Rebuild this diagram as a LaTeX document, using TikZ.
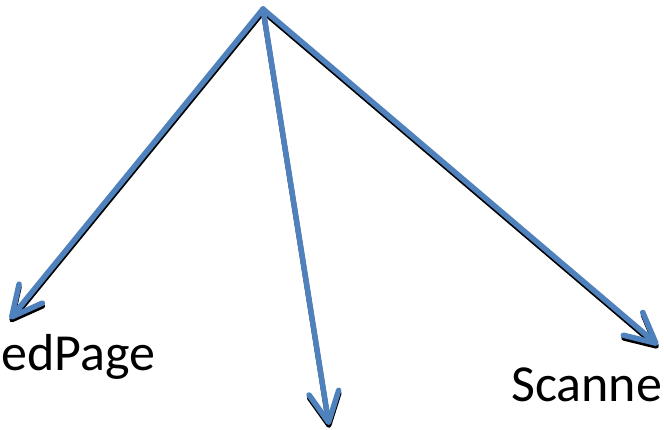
\documentclass[tikz,border=0pt]{standalone}
\usepackage{fontspec}
\setmainfont{Carlito}
\usetikzlibrary{arrows.meta}
\definecolor{accentblue}{RGB}{79,129,189}
\begin{document}
\begin{tikzpicture}[x=1pt,y=-1pt,
  conn/.style={line width=5.5pt, draw=accentblue, line cap=round, line join=round,
    -{Straight Barb[length=30pt,width=30pt,line cap=round,line join=round]}},
  shadowconn/.style={conn, draw=black, line width=5pt, transform canvas={xshift=0.3pt,yshift=-2.8pt}},
  lbl/.style={inner sep=0pt, font=\fontsize{52}{60}\selectfont, text=black}]
\useasboundingbox (0,0) rectangle (664,429);
\coordinate (top) at (263,9);
\coordinate (left) at (10,319);
\coordinate (mid) at (329,425);
\coordinate (right) at (658,345);
\draw[shadowconn] (top) -- (left);
\draw[shadowconn] (top) -- (mid);
\draw[shadowconn] (top) -- (right);
\draw[conn] (top) -- (left);
\draw[conn] (top) -- (mid);
\draw[conn] (top) -- (right);
\node[lbl, anchor=base west] (lp) at (1,370) {edPage};
\node[lbl, anchor=base west] (rp) at (511,401) {Scanne};
\end{tikzpicture}
\end{document}
